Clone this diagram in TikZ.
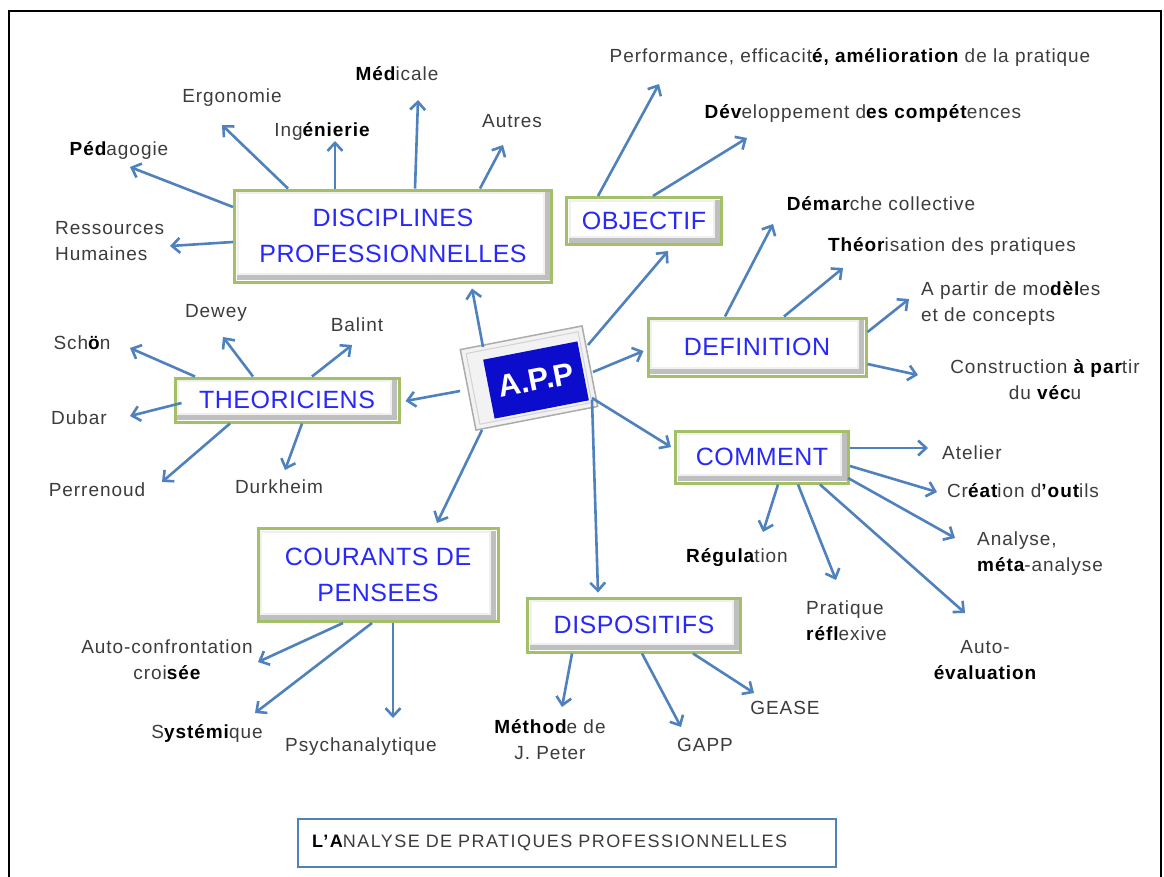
\documentclass[tikz,border=0pt]{standalone}
\usepackage{fontspec}
\setmainfont{Liberation Sans}
\newfontfamily\labfont[LetterSpace=5]{Liberation Sans}
\newfontfamily\boxfont[LetterSpace=2]{Liberation Sans}
\newfontfamily\titfont[LetterSpace=8]{Liberation Sans}
\usetikzlibrary{arrows.meta,calc}
\definecolor{arrowblue}{RGB}{79,129,189}
\definecolor{boxgreen}{RGB}{163,192,104}
\definecolor{boxtext}{RGB}{40,40,250}
\definecolor{labelgray}{RGB}{60,60,60}
\definecolor{appblue}{RGB}{12,12,205}
\newcommand\bk[1]{{\bfseries\color{black}#1}}
\begin{document}
\begin{tikzpicture}[x=1pt,y=-1pt,
  arr/.style={draw=arrowblue, line width=2.6pt, -{Straight Barb[length=8pt,width=15pt]}},
  box/.style={draw=boxgreen, line width=3pt, fill=white, text=boxtext, align=center,
    font=\boxfont\fontsize{25}{36}\selectfont, inner sep=0pt,
    path picture={
      \fill[gray!50] ([shift={(2pt,-2pt)}]path picture bounding box.north west) rectangle ([shift={(-2pt,2pt)}]path picture bounding box.south east);
      \fill[gray!12] ([shift={(2pt,-2pt)}]path picture bounding box.north west) rectangle ([shift={(-7pt,7pt)}]path picture bounding box.south east);
      \fill[white] ([shift={(4pt,-4pt)}]path picture bounding box.north west) rectangle ([shift={(-9pt,9pt)}]path picture bounding box.south east);
    }},
  lab/.style={text=labelgray, font=\labfont\fontsize{19}{26}\selectfont, inner sep=0pt, align=center},
]
\useasboundingbox (0,0) rectangle (1164,876);
\clip (0,0) rectangle (1164,876);
\fill[white] (0,0) rectangle (1164,876);
\draw[black, line width=2pt] (9,11) rectangle (1161,910);

% ---------- main boxes ----------
\node[box, minimum width=317, minimum height=92] (disc) at (393,236) {DISCIPLINES\\PROFESSIONNELLES};
\node[box, minimum width=155, minimum height=47] (obj) at (644,221) {OBJECTIF};
\node[box, minimum width=218, minimum height=58] (def) at (757,347) {DEFINITION};
\node[box, minimum width=173, minimum height=52] (com) at (762,457) {COMMENT};
\node[box, minimum width=224, minimum height=44] (theo) at (287,400) {THEORICIENS};
\node[box, minimum width=240, minimum height=93] (cour) at (378,575) {COURANTS DE\\PENSEES};
\node[box, minimum width=213, minimum height=54] (disp) at (634,625) {DISPOSITIFS};

% ---------- central A.P.P ----------
\filldraw[rotate around={11:(529,378)}, fill=gray!10, draw=gray!65, line width=1.5pt]
  (467,337) rectangle (591,419);
\draw[rotate around={11:(529,378)}, draw=gray!35, line width=1pt]
  (472,342) rectangle (586,414);
\node[rotate=11, fill=appblue, minimum width=96, minimum height=60, inner sep=0pt, text=white,
  font=\bfseries\fontsize{31}{31}\selectfont] (app) at (536,380) {A.P.P};

% ---------- labels ----------
\node[lab] (ped) at (119,150) {\bk{Péd}agogie};
\node[lab] (ergo) at (232,98) {Ergonomie};
\node[lab] (inge) at (322,131) {Ing\bk{énierie}};
\node[lab] (medi) at (397,74) {\bk{Méd}icale};
\node[lab] (autr) at (512,121) {Autres};
\node[lab, align=left, anchor=west] (rh) at (55,241) {Ressources\\Humaines};

\node[lab] (perf) at (850,58) {Performance, efficacit\bk{é, amélioration} de la pratique};
\node[lab] (devc) at (863,113) {\bk{Dév}eloppement d\bk{es compét}ences};

\node[lab] (dema) at (881,204) {\bk{Démar}che collective};
\node[lab] (theor) at (952,246) {\bk{Théor}isation des pratiques};
\node[lab, align=left, anchor=west] (apar) at (921,303) {A partir de mo\bk{dèl}es\\et de concepts};
\node[lab] (cons) at (1045,380) {Construction \bk{à par}tir\\du \bk{véc}u};

\node[lab] (atel) at (972,453) {Atelier};
\node[lab] (crea) at (1023,491) {Cr\bk{éat}ion d\bk{’out}ils};
\node[lab, align=left, anchor=west] (anal) at (977,554) {Analyse,\\\bk{méta}-analyse};
\node[lab] (auto) at (985,660) {Auto-\\\bk{évaluation}};
\node[lab] (regu) at (737,558) {\bk{Régula}tion};
\node[lab, align=left, anchor=west] (prat) at (806,621) {Pratique\\\bk{réfl}exive};

\node[lab] (meth) at (550,740) {\bk{Méthod}e de\\J. Peter};
\node[lab] (gapp) at (705,745) {GAPP};
\node[lab] (gease) at (785,708) {GEASE};

\node[lab] (autoc) at (167,660) {Auto-confrontation\\croi\bk{sée}};
\node[lab] (syst) at (207,733) {S\bk{ystémi}que};
\node[lab] (psy) at (361,747) {Psychanalytique};

\node[lab] (schon) at (82,343) {Sch\bk{ö}n};
\node[lab] (dewey) at (216,313) {Dewey};
\node[lab] (balint) at (357,325) {Balint};
\node[lab] (dubar) at (79,418) {Dubar};
\node[lab] (perr) at (97,490) {Perrenoud};
\node[lab] (durk) at (279,487) {Durkheim};

\node[draw=arrowblue, line width=2pt, anchor=north west, minimum width=537, minimum height=48,
  text width=510, align=left, inner xsep=14pt, text=labelgray, font=\titfont\fontsize{18}{18}\selectfont]
  (title) at (297,818) {\bk{L’A}NALYSE DE PRATIQUES PROFESSIONNELLES};

% ---------- arrow tips ----------
\coordinate (pedH) at (130,167);
\coordinate (ergoH) at (222,125);
\coordinate (ingeH) at (335,141);
\coordinate (mediH) at (418,100);
\coordinate (autrH) at (503,145);
\coordinate (rhH) at (170,246);
\coordinate (perfH) at (659,84);
\coordinate (devcH) at (747,138);
\coordinate (demaH) at (773,224);
\coordinate (theorH) at (843,268);
\coordinate (aparH) at (909,299);
\coordinate (consH) at (918,375);
\coordinate (atelH) at (928,448);
\coordinate (creaH) at (937,492);
\coordinate (analH) at (955,538);
\coordinate (autoH) at (965,613);
\coordinate (reguH) at (763,532);
\coordinate (pratH) at (836,580);
\coordinate (methH) at (562,707);
\coordinate (gappH) at (681,727);
\coordinate (geaseH) at (754,693);
\coordinate (autocH) at (258,662);
\coordinate (systH) at (255,713);
\coordinate (psyH) at (393,718);
\coordinate (schonH) at (130,348);
\coordinate (deweyH) at (223,337);
\coordinate (balintH) at (352,345);
\coordinate (dubarH) at (130,416);
\coordinate (perrH) at (162,482);
\coordinate (durkH) at (285,470);

% ---------- A.P.P to boxes ----------
\draw[arr] ($(app.center)+(-53,-33)$) -- ($(disc.south)+(79,5)$);
\draw[arr] ($(app.center)+(52,-35)$) -- ($(obj.south)+(24,5)$);
\draw[arr] ($(app.center)+(57,-8)$) -- ($(def.west)+(-3,4)$);
\draw[arr] ($(app.center)+(56,18)$) -- ($(com.west)+(-3,-10)$);
\draw[arr] ($(app.center)+(56,20)$) -- ($(disp.north)+(-36,-4)$);
\draw[arr] ($(app.center)+(-54,50)$) -- ($(cour.north)+(59,-4)$);
\draw[arr] ($(app.center)+(-76,11)$) -- ($(theo.east)+(5,1)$);

% ---------- disciplines ----------
\draw[arr] ($(disc.west)+(0,-29)$) -- (pedH);
\draw[arr] ($(disc.north)+(-105,0)$) -- (ergoH);
\draw[arr] ($(disc.north)+(-58,0)$) -- (ingeH);
\draw[arr] ($(disc.north)+(22,0)$) -- (mediH);
\draw[arr] ($(disc.north)+(87,0)$) -- (autrH);
\draw[arr] ($(disc.west)+(0,6)$) -- (rhH);

% ---------- objectif ----------
\draw[arr] ($(obj.north)+(-46,0)$) -- (perfH);
\draw[arr] ($(obj.north)+(9,0)$) -- (devcH);

% ---------- definition ----------
\draw[arr] ($(def.north)+(-32,0)$) -- (demaH);
\draw[arr] ($(def.north)+(27,0)$) -- (theorH);
\draw[arr] ($(def.east)+(0,-15)$) -- (aparH);
\draw[arr] ($(def.east)+(0,17)$) -- (consH);

% ---------- comment ----------
\draw[arr] ($(com.east)+(0,-9)$) -- (atelH);
\draw[arr] ($(com.east)+(0,9)$) -- (creaH);
\draw[arr] ($(com.east)+(-2,21)$) -- (analH);
\draw[arr] ($(com.south)+(58,0)$) -- (autoH);
\draw[arr] ($(com.south)+(16,0)$) -- (reguH);
\draw[arr] ($(com.south)+(36,0)$) -- (pratH);

% ---------- dispositifs ----------
\draw[arr] ($(disp.south)+(-62,0)$) -- (methH);
\draw[arr] ($(disp.south)+(8,0)$) -- (gappH);
\draw[arr] ($(disp.south)+(59,0)$) -- (geaseH);

% ---------- courants ----------
\draw[arr] ($(cour.south)+(-35,0)$) -- (autocH);
\draw[arr] ($(cour.south)+(-6,0)$) -- (systH);
\draw[arr] ($(cour.south)+(15,0)$) -- (psyH);

% ---------- theoriciens ----------
\draw[arr] ($(theo.north)+(-92,0)$) -- (schonH);
\draw[arr] ($(theo.north)+(-34,0)$) -- (deweyH);
\draw[arr] ($(theo.north)+(25,0)$) -- (balintH);
\draw[arr] ($(theo.west)+(8,3)$) -- (dubarH);
\draw[arr] ($(theo.south)+(-57,0)$) -- (perrH);
\draw[arr] ($(theo.south)+(15,0)$) -- (durkH);
\end{tikzpicture}
\end{document}
